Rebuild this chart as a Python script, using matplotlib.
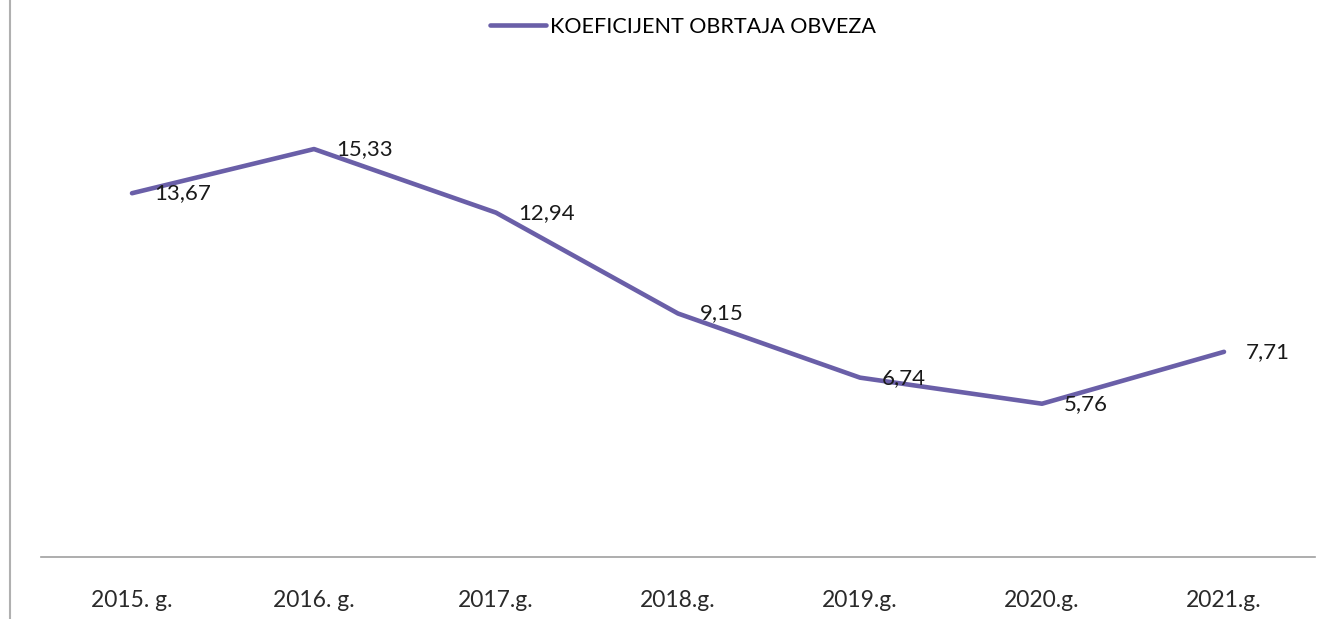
import matplotlib
matplotlib.use("Agg")
import matplotlib.pyplot as plt
from matplotlib.lines import Line2D

years = ["2015. g.", "2016. g.", "2017.g.", "2018.g.", "2019.g.", "2020.g.", "2021.g."]
koef = [13.67, 15.33, 12.94, 9.15, 6.74, 5.76, 7.71]
series_name = "KOEFICIJENT OBRTAJA OBVEZA"

plt.rcParams['font.family'] = ['Lato', 'DejaVu Sans']
purple = '#6a5fa8'

fig = plt.figure(figsize=(13.36, 6.19), dpi=100)
ax = fig.add_axes([41/1336, 62/619, 1274/1336, 479/619])

x = range(len(years))
line, = ax.plot(x, koef, color=purple, lw=3.3, solid_capstyle='round', label=series_name)
for xi, v in zip(x, koef):
    ax.annotate(f"{v:.2f}".replace('.', ','), (xi, v), xytext=(22, 0),
                textcoords='offset pixels', ha='left', va='center',
                fontsize=16, color='#1a1a1a')

ax.set_xlim(-0.5, len(years) - 0.5)
ax.set_ylim(0, 18)
ax.set_xticks(list(x))
ax.set_xticklabels(years, fontsize=16.5, color='#2a2a2a')
ax.tick_params(axis='x', length=0, pad=24)
ax.set_yticks([])
for s in ['top', 'right', 'left']:
    ax.spines[s].set_visible(False)
ax.spines['bottom'].set_color('#a0a0a0')
ax.spines['bottom'].set_linewidth(1.2)

# chart border on the left
fig.add_artist(Line2D([10/1336, 10/1336], [0, 1], color='#b0b0b0', lw=1.5))

fig.legend(handles=[line], loc='center', bbox_to_anchor=(683/1336, 1 - 27/619),
           frameon=False, fontsize=15.5, handlelength=2.6, handletextpad=0.15)

fig.savefig('out.png', dpi=100)
